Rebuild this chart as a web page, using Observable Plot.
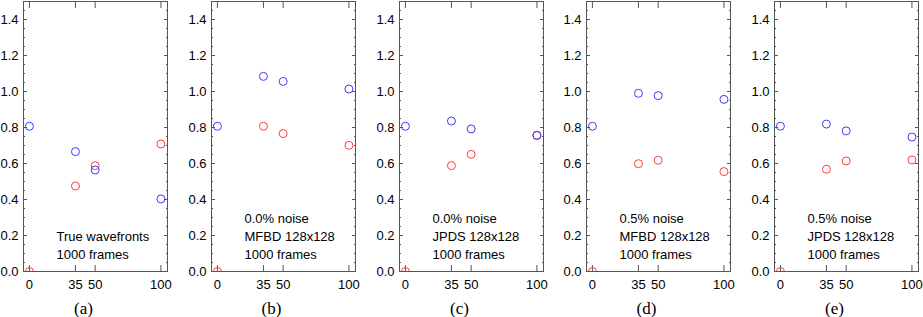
<!DOCTYPE html>
<html>
<head>
<meta charset="utf-8">
<script src="https://cdn.jsdelivr.net/npm/d3@7"></script>
<script src="https://cdn.jsdelivr.net/npm/@observablehq/plot@0.6"></script>
<style>
  html, body { margin: 0; padding: 0; background: #fff; overflow: hidden; }
  #wrap { position: relative; width: 923px; height: 317px; overflow: hidden; }
  .panel { position: absolute; top: 0; width: 188px; height: 317px; }
  .panel svg { max-width: none !important; display: block; }
</style>
</head>
<body>
<div id="wrap"></div>
<script>
// x positions (frames used)
const xValues = [0, 35, 50, 100];
const xTicks = [0, 35, 50, 100];
const yTicks = [0, 0.2, 0.4, 0.6, 0.8, 1.0, 1.2, 1.4];
const yMinorTicks = d3.range(0, 1.51, 0.05).map(v => +v.toFixed(2));

const panelLabels = ["(a)", "(b)", "(c)", "(d)", "(e)"];
const panelNotes = [
  "True wavefronts\n1000 frames",
  "0.0% noise\nMFBD 128x128\n1000 frames",
  "0.0% noise\nJPDS 128x128\n1000 frames",
  "0.5% noise\nMFBD 128x128\n1000 frames",
  "0.5% noise\nJPDS 128x128\n1000 frames"
];

// blue series per panel
const blueA = [0.807, 0.666, 0.564, 0.403];
const blueB = [0.807, 1.084, 1.056, 1.014];
const blueC = [0.807, 0.836, 0.792, 0.757];
const blueD = [0.807, 0.990, 0.977, 0.956];
const blueE = [0.807, 0.819, 0.781, 0.747];
// red series per panel
const redA = [0.0, 0.475, 0.588, 0.708];
const redB = [0.0, 0.807, 0.766, 0.701];
const redC = [0.0, 0.588, 0.651, 0.755];
const redD = [0.0, 0.599, 0.618, 0.555];
const redE = [0.0, 0.568, 0.614, 0.620];

const blues = [blueA, blueB, blueC, blueD, blueE];
const reds = [redA, redB, redC, redD, redE];

const BLUE = "#3c3cff";
const RED = "#ff3c3c";
const FRAME = "#555";
const SANS = "'Liberation Sans', Arial, Helvetica, sans-serif";
const SERIF = "'Liberation Serif', 'Times New Roman', serif";

const wrap = document.getElementById("wrap");
const period = 187.8;

for (let i = 0; i < 5; i++) {
  const pts = [];
  xValues.forEach((x, j) => pts.push({x, y: reds[i][j], s: "red"}));
  xValues.forEach((x, j) => pts.push({x, y: blues[i][j], s: "blue"}));

  const chart = Plot.plot({
    width: 188,
    height: 317,
    marginLeft: 23,
    marginRight: 21,
    marginTop: 1,
    marginBottom: 46,
    style: {fontFamily: SANS, fontSize: "13px", color: "#000", background: "transparent", overflow: "visible", maxWidth: "none"},
    x: {domain: [-4.5, 105], axis: null},
    y: {domain: [0, 1.5], axis: null},
    marks: [
      // labels
      Plot.axisY({ticks: yTicks, tickSize: 0, tickPadding: 5, anchor: "left", tickFormat: d3.format(".1f"), fontSize: 13, fontFamily: SANS, label: null}),
      Plot.axisX({ticks: xTicks, tickSize: 0, tickPadding: 8, anchor: "bottom", fontSize: 13, fontFamily: SANS, label: null}),
      // inward ticks
      Plot.axisY({ticks: yTicks, tickSize: -4, anchor: "left", text: null, label: null, stroke: FRAME}),
      Plot.axisY({ticks: yMinorTicks, tickSize: -2, anchor: "left", text: null, label: null, stroke: FRAME}),
      Plot.axisY({ticks: yTicks, tickSize: -4, anchor: "right", text: null, label: null, stroke: FRAME}),
      Plot.axisY({ticks: yMinorTicks, tickSize: -2, anchor: "right", text: null, label: null, stroke: FRAME}),
      Plot.axisX({ticks: xTicks, tickSize: -6, anchor: "bottom", text: null, label: null, stroke: FRAME}),
      Plot.axisX({ticks: xTicks, tickSize: -6, anchor: "top", text: null, label: null, stroke: FRAME}),
      Plot.dot(pts, {x: "x", y: "y", r: 4, stroke: d => d.s === "red" ? RED : BLUE, fill: "none", strokeWidth: 1, clip: true}),
      Plot.frame({stroke: FRAME}),
      Plot.text([panelNotes[i]], {frameAnchor: "bottom-left", textAnchor: "start", lineAnchor: "bottom", dx: 33, dy: -13, lineHeight: 1.38, fontSize: 13, fontFamily: SANS, fill: "#000"}),
      Plot.text([panelLabels[i]], {frameAnchor: "bottom", lineAnchor: "middle", dx: -12, dy: 37, fontSize: 17, fontFamily: SERIF, fill: "#000"})
    ]
  });
  const div = document.createElement("div");
  div.className = "panel";
  div.style.left = (i * period) + "px";
  div.appendChild(chart);
  wrap.appendChild(div);
}
</script>
</body>
</html>
